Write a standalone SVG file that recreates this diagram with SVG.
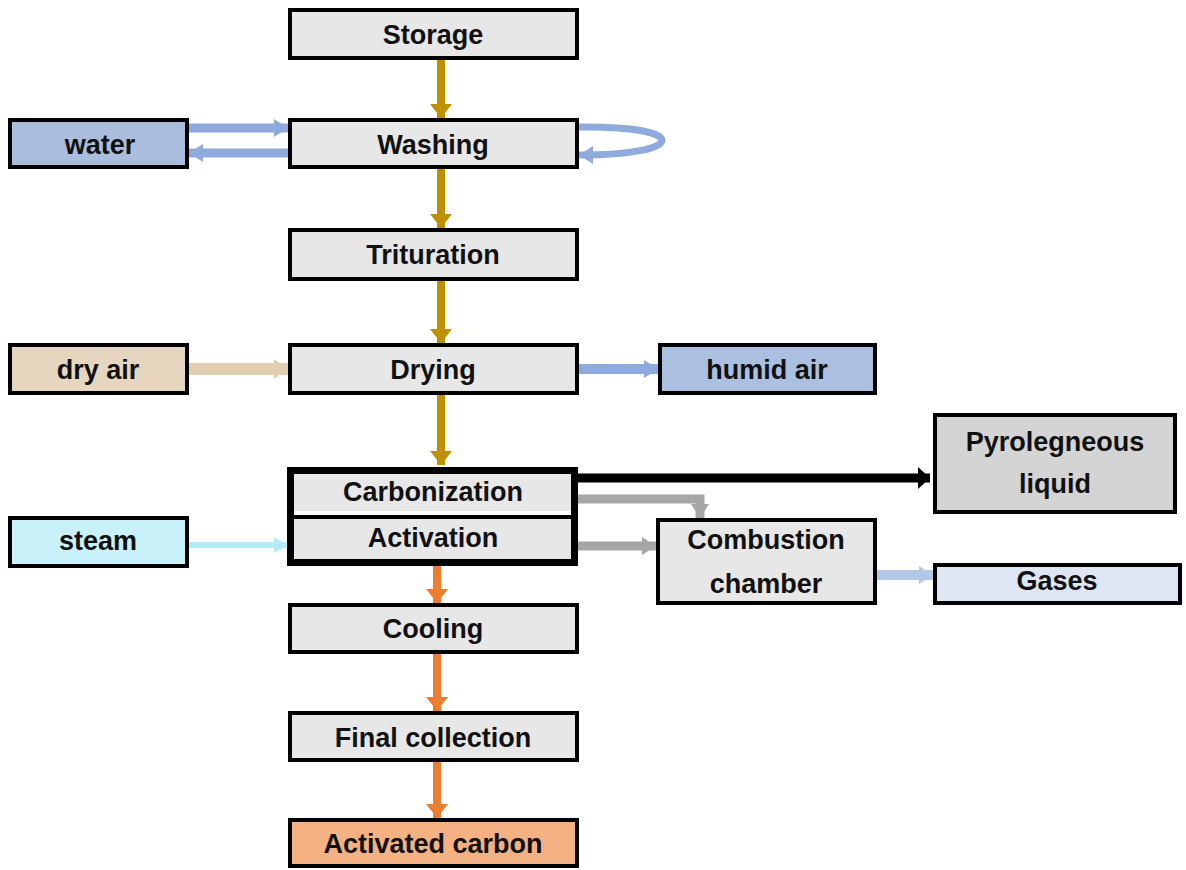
<svg xmlns="http://www.w3.org/2000/svg" width="1186" height="870" viewBox="0 0 1186 870">
<style>
.box{stroke:#000;stroke-width:4}
.g{fill:#e7e7e7}
.t{font-family:"Liberation Sans",Arial,sans-serif;font-weight:bold;font-size:27px;fill:#111;text-anchor:middle;dominant-baseline:central}
</style>
<defs>
<marker id="mGold" markerUnits="userSpaceOnUse" markerWidth="24" markerHeight="24" refX="14" refY="12" orient="auto"><path d="M0,1 L14,12 L0,23 Z" fill="#bf9000"/></marker>
<marker id="mOr" markerUnits="userSpaceOnUse" markerWidth="24" markerHeight="24" refX="14" refY="12" orient="auto"><path d="M0,1 L14,12 L0,23 Z" fill="#ed7d31"/></marker>
<marker id="mBlue" markerUnits="userSpaceOnUse" markerWidth="24" markerHeight="24" refX="14" refY="12" orient="auto"><path d="M0,3 L14,12 L0,21 Z" fill="#8faadc"/></marker>
<marker id="mLB" markerUnits="userSpaceOnUse" markerWidth="24" markerHeight="24" refX="14" refY="12" orient="auto"><path d="M0,3 L14,12 L0,21 Z" fill="#b4c7e7"/></marker>
<marker id="mTan" markerUnits="userSpaceOnUse" markerWidth="24" markerHeight="24" refX="14" refY="12" orient="auto"><path d="M0,2 L14,12 L0,22 Z" fill="#e2cfb0"/></marker>
<marker id="mCy" markerUnits="userSpaceOnUse" markerWidth="24" markerHeight="24" refX="14" refY="12" orient="auto"><path d="M0,4 L14,12 L0,20 Z" fill="#b4ecf6"/></marker>
<marker id="mGr" markerUnits="userSpaceOnUse" markerWidth="24" markerHeight="24" refX="14" refY="12" orient="auto"><path d="M0,3 L14,12 L0,21 Z" fill="#a6a6a6"/></marker>
<marker id="mBk" markerUnits="userSpaceOnUse" markerWidth="24" markerHeight="26" refX="12" refY="13" orient="auto"><path d="M0,2 L12,13 L0,24 Z" fill="#000"/></marker>
</defs>
<rect width="1186" height="870" fill="#fff"/>

<g id="connectors">
<g stroke="#bf9000" stroke-width="8" fill="none">
<line x1="441" y1="58" x2="441" y2="118" marker-end="url(#mGold)"/>
<line x1="441" y1="167" x2="441" y2="228" marker-end="url(#mGold)"/>
<line x1="441" y1="279" x2="441" y2="343" marker-end="url(#mGold)"/>
<line x1="441" y1="393" x2="441" y2="465" marker-end="url(#mGold)"/>
</g>
<g stroke="#ed7d31" stroke-width="8" fill="none">
<line x1="437" y1="566" x2="437" y2="603" marker-end="url(#mOr)"/>
<line x1="437" y1="652" x2="437" y2="711" marker-end="url(#mOr)"/>
<line x1="437" y1="760" x2="437" y2="818" marker-end="url(#mOr)"/>
</g>
<g stroke="#8faadc" stroke-width="9" fill="none">
<line x1="187" y1="128" x2="288" y2="128" marker-end="url(#mBlue)"/>
<line x1="290" y1="153" x2="189" y2="153" marker-end="url(#mBlue)"/>
<path d="M577,127 C690,125 690,155 579,155" stroke-width="7" marker-end="url(#mBlue)"/>
<line x1="577" y1="369" x2="658" y2="369" stroke-width="10" marker-end="url(#mBlue)"/>
</g>
<line x1="187" y1="369" x2="288" y2="369" stroke="#e2cfb0" stroke-width="12" marker-end="url(#mTan)"/>
<line x1="187" y1="545" x2="288" y2="545" stroke="#b4ecf6" stroke-width="6" marker-end="url(#mCy)"/>
<line x1="578" y1="478" x2="930" y2="478" stroke="#000" stroke-width="9" marker-end="url(#mBk)"/>
<g stroke="#a6a6a6" stroke-width="9" fill="none">
<polyline points="577,499 700,499 700,518" marker-end="url(#mGr)"/>
<line x1="577" y1="546" x2="656" y2="546" marker-end="url(#mGr)"/>
</g>
<line x1="875" y1="575" x2="933" y2="575" stroke="#b4c7e7" stroke-width="10" marker-end="url(#mLB)"/>
</g>

<g id="storage"><rect class="box g" x="290" y="10" width="287" height="48"/><text class="t" x="433" y="35">Storage</text></g>
<g id="washing"><rect class="box g" x="290" y="120" width="287" height="47"/><text class="t" x="433" y="145">Washing</text></g>
<g id="water"><rect class="box" fill="#abbddd" x="10" y="120" width="177" height="47"/><text class="t" x="100" y="145">water</text></g>
<g id="trituration"><rect class="box g" x="290" y="230" width="287" height="49"/><text class="t" x="433" y="255">Trituration</text></g>
<g id="drying"><rect class="box g" x="290" y="345" width="287" height="48"/><text class="t" x="433" y="370">Drying</text></g>
<g id="dryair"><rect class="box" fill="#e7d6bf" x="10" y="345" width="177" height="48"/><text class="t" x="98" y="370">dry air</text></g>
<g id="humidair"><rect class="box" fill="#abbfe0" x="660" y="345" width="215" height="48"/><text class="t" x="767" y="370">humid air</text></g>
<g id="carbact">
<rect x="287" y="467" width="291" height="99" fill="#000"/>
<rect class="g" x="294" y="474" width="277" height="37"/>
<rect fill="#fff" x="294" y="511" width="277" height="4"/>
<rect class="g" x="294" y="519" width="277" height="40"/>
<text class="t" x="433" y="492">Carbonization</text>
<text class="t" x="433" y="538">Activation</text>
</g>
<g id="steam"><rect class="box" fill="#c9f1f9" x="10" y="518" width="177" height="48"/><text class="t" x="98" y="541">steam</text></g>
<g id="pyro"><rect class="box" fill="#d4d4d4" x="935" y="415" width="240" height="97"/><text class="t" x="1055" y="442">Pyrolegneous</text><text class="t" x="1055" y="484">liquid</text></g>
<g id="combustion"><rect class="box g" x="658" y="520" width="217" height="83"/><text class="t" x="766" y="540">Combustion</text><text class="t" x="766" y="584">chamber</text></g>
<g id="gases"><rect class="box" fill="#dfe6f3" x="935" y="565" width="245" height="38"/><text class="t" x="1057" y="581">Gases</text></g>
<g id="cooling"><rect class="box g" x="290" y="605" width="287" height="47"/><text class="t" x="433" y="629">Cooling</text></g>
<g id="final"><rect class="box g" x="290" y="713" width="287" height="47"/><text class="t" x="433" y="738">Final collection</text></g>
<g id="activated"><rect class="box" fill="#f4b183" x="290" y="820" width="287" height="46"/><text class="t" x="433" y="844">Activated carbon</text></g>
</svg>
